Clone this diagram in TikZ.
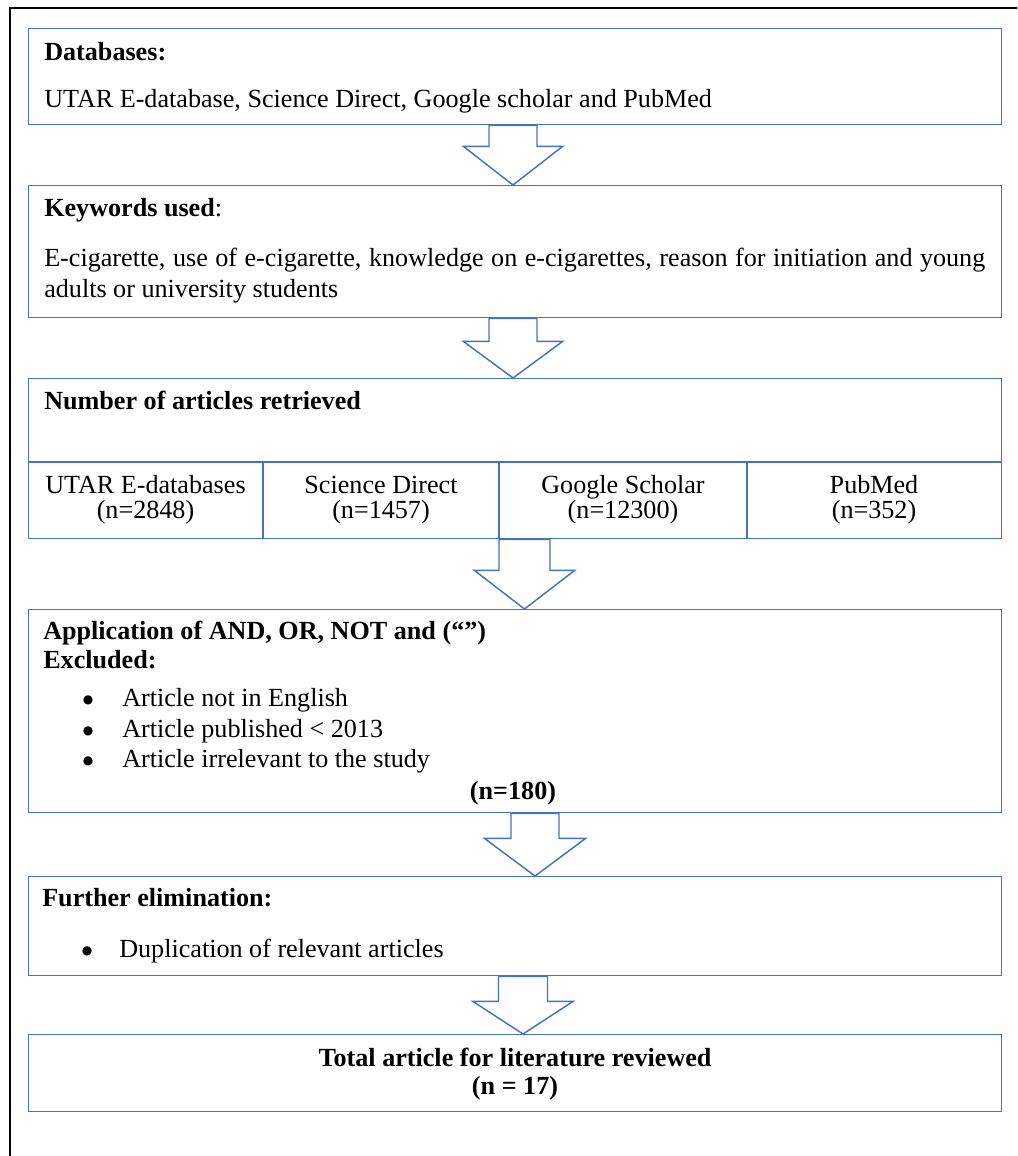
\documentclass[tikz,border=0pt]{standalone}
\usepackage{fontspec}
\setmainfont{Liberation Serif}
\newfontfamily\symfont{DejaVu Sans}
\usetikzlibrary{calc}
\definecolor{boxblue}{RGB}{68,114,196}
\tikzset{
  x=0.75pt, y=-0.75pt,
  box/.style={draw=boxblue, line width=1.1pt, rectangle, inner sep=0pt, anchor=north west, minimum width=729.75pt},
  divline/.style={draw=boxblue, line width=1.1pt},
  arr/.style={draw=boxblue, line width=1.1pt, fill=white, line join=miter},
  txt/.style={inner sep=0pt, anchor=base west, font=\fontsize{19.6}{22}\selectfont},
  ctxt/.style={inner sep=0pt, anchor=base, font=\fontsize{19.6}{22}\selectfont},
  bul/.style={inner sep=0pt, anchor=base, font=\symfont\fontsize{9}{10}\selectfont},
  frame/.style={draw=black, line width=1.5pt}
}
% #1 centre x, #2 from node, #3 to node, #4 stem half width, #5 wing half width, #6 stem length
\newcommand\flowarrow[6]{%
  \draw[arr] ($(#2.south -| #1,0)+(-#4,0)$) -- ($(#2.south -| #1,0)+(-#4,#6)$)
    -- ($(#2.south -| #1,0)+(-#5,#6)$) -- (#3.north -| #1,0)
    -- ($(#2.south -| #1,0)+(#5,#6)$) -- ($(#2.south -| #1,0)+(#4,#6)$)
    -- ($(#2.south -| #1,0)+(#4,0)$) -- cycle;}
\begin{document}
\begin{tikzpicture}
\useasboundingbox (0,0) rectangle (1017,1156);
\clip (0,0) rectangle (1017,1156);
\draw[frame] (10,1170) -- (10,8) -- (1030,8);

% boxes
\node[box, minimum height=72pt] (b1) at (28,28) {};
\node[box, minimum height=99pt] (b2) at (28,185) {};
\node[box, minimum height=120pt] (b3) at (28,378) {};
\node[box, minimum height=152.25pt] (b4) at (28,609) {};
\node[box, minimum height=74.25pt] (b5) at (28,876) {};
\node[box, minimum height=57.75pt] (b6) at (28,1034) {};

% table dividers in box 3
\coordinate (dl) at (28,462);
\coordinate (dr) at (1001,462);
\draw[divline] (dl) -- (dr);
\draw[divline] (263,462) -- (263,538);
\draw[divline] (499,462) -- (499,538);
\draw[divline] (747,462) -- (747,538);

% arrows
\flowarrow{513}{b1}{b2}{24}{49.5}{21}
\flowarrow{513}{b2}{b3}{24}{49.5}{23}
\flowarrow{524.5}{b3}{b4}{25.5}{50}{31}
\flowarrow{535}{b4}{b5}{24}{50.5}{25}
\flowarrow{523}{b5}{b6}{24.5}{50}{25}

% box 1 text
\node[txt] (t1a) at (44,61) {\textbf{Databases:}};
\node[txt] (t1b) at (44,108) {UTAR E-database, Science Direct, Google scholar and PubMed};

% box 2 text
\node[txt] (t2a) at (44,216) {\textbf{Keywords used}:};
\node[txt] (t2b) at (44,266) {\makebox[705.75pt][s]{E-cigarette, use of e-cigarette, knowledge on e-cigarettes, reason for initiation and young}};
\node[txt] (t2c) at (44,297) {adults or university students};

% box 3 text
\node[txt] (t3) at (44,409) {\textbf{Number of articles retrieved}};
\node[ctxt] (c1a) at (145.5,493) {UTAR E-databases};
\node[ctxt] (c1b) at (145.5,518) {(n=2848)};
\node[ctxt] (c2a) at (381,493) {Science Direct};
\node[ctxt] (c2b) at (381,518) {(n=1457)};
\node[ctxt] (c3a) at (623,493) {Google Scholar};
\node[ctxt] (c3b) at (623,518) {(n=12300)};
\node[ctxt] (c4a) at (874,493) {PubMed};
\node[ctxt] (c4b) at (874,518) {(n=352)};

% box 4 text
\node[txt] (t4a) at (43,639) {\textbf{Application of AND, OR, NOT and (“”)}};
\node[txt] (t4b) at (43,668) {\textbf{Excluded:}};
\node[bul] (u1) at (88,703) {●};
\node[txt] (t4c) at (122,706) {Article not in English};
\node[bul] (u2) at (88,734) {●};
\node[txt] (t4d) at (122,737) {Article published < 2013};
\node[bul] (u3) at (88,764) {●};
\node[txt] (t4e) at (122,767) {Article irrelevant to the study};
\node[ctxt] (t4f) at (513,799) {\textbf{(n=180)}};

% box 5 text
\node[txt] (t5a) at (42,906) {\textbf{Further elimination:}};
\node[bul] (u4) at (87,954) {●};
\node[txt] (t5b) at (119,957) {Duplication of relevant articles};

% box 6 text
\node[ctxt] (t6a) at (515,1066) {\textbf{Total article for literature reviewed}};
\node[ctxt] (t6b) at (515,1094) {\textbf{(n = 17)}};
\end{tikzpicture}
\end{document}
